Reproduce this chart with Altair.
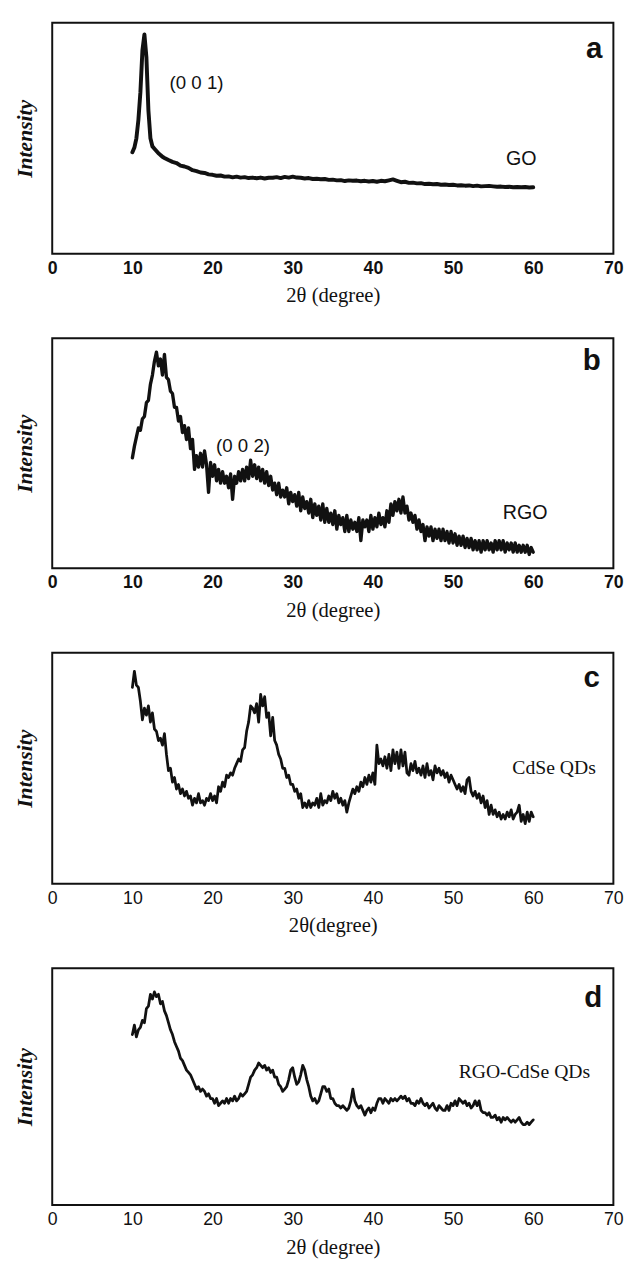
import altair as alt
import pandas as pd

# ---------------- data (2theta in degrees, intensity in arbitrary units 0-100) ----------------
# Panel a: GO
a_theta = [10.0, 10.25, 10.5, 10.75, 11.0, 11.25, 11.5, 11.75, 12.0, 12.25, 12.5, 12.75,
           13.0, 13.25, 13.5, 13.75, 14.0] + [14.5 + 0.5 * i for i in range(92)]
a_int = [44, 46, 50, 58, 70, 88, 95, 85, 62, 50, 46.5, 45.5,
         44.5, 43.5, 42.8, 42, 41.5,
         40.6, 39.8, 39.3, 38.2, 37.8, 37.2, 36.2, 35.8, 35.2, 35.0, 34.4,   # 14.5-19.5
         34.2, 33.8, 33.9, 33.4, 33.5, 33.1, 33.4, 33.0, 33.2, 32.8,         # 20-24.5
         33.0, 32.7, 33.0, 32.6, 32.9, 32.9, 33.2, 32.8, 33.3, 33.0,         # 25-29.5
         33.4, 33.0, 32.9, 32.6, 32.8, 32.4, 32.5, 32.3, 32.4, 32.0,         # 30-34.5
         32.1, 31.8, 31.9, 31.5, 31.8, 31.6, 31.7, 31.4, 31.6, 31.3,         # 35-39.5
         31.5, 31.2, 31.6, 31.4, 31.8, 32.2, 31.6, 31.0, 31.2, 30.7,         # 40-44.5
         30.8, 30.5, 30.6, 30.2, 30.3, 30.1, 30.2, 29.9, 30.0, 29.8,         # 45-49.5
         29.9, 29.6, 29.7, 29.5, 29.6, 29.3, 29.5, 29.2, 29.3, 29.4,         # 50-54.5
         29.2, 29.0, 29.1, 28.9, 29.0, 28.8, 28.9, 28.8, 28.9, 28.7,         # 55-59.5
         28.8]                                                               # 60

# Panel b: RGO (0.25 degree steps, one row per degree)
b_int = [
    48, 53, 57, 61,   # 10
    60, 65, 66, 72,   # 11
    73, 80, 84, 90,   # 12
    94, 88, 91, 84,   # 13
    93, 83, 82, 77,   # 14
    76, 70, 70, 64,   # 15
    66, 59, 62, 56,   # 16
    61, 52, 56, 43,   # 17
    49, 44, 50, 44,   # 18
    51, 45, 33, 46,   # 19
    40, 45, 38, 43,   # 20
    37, 42, 37, 40,   # 21
    35, 41, 30, 40,   # 22
    37, 42, 38, 43,   # 23
    38, 44, 39, 47,   # 24
    40, 45, 39, 44,   # 25
    38, 43, 37, 42,   # 26
    36, 40, 34, 37,   # 27
    32, 37, 31, 34,   # 28
    31, 35, 28, 33,   # 29
    29, 32, 27, 33,   # 30
    25, 31, 26, 29,   # 31
    24, 30, 22, 28,   # 32
    23, 27, 21, 28,   # 33
    20, 26, 20, 24,   # 34
    19, 25, 17, 23,   # 35
    19, 22, 16, 23,   # 36
    16, 21, 17, 20,   # 37
    16, 22, 12, 21,   # 38
    18, 21, 16, 23,   # 39
    17, 22, 18, 24,   # 40
    19, 22, 18, 25,   # 41
    20, 28, 23, 29,   # 42
    25, 30, 24, 31,   # 43
    24, 27, 21, 24,   # 44
    20, 23, 17, 21,   # 45
    16, 19, 12, 18,   # 46
    14, 18, 12, 17,   # 47
    13, 17, 12, 17,   # 48
    12, 16, 11, 16,   # 49
    11, 15, 10, 14,   # 50
    10, 14, 9, 13,    # 51
    9, 13, 8, 12,     # 52
    8, 12, 7, 12,     # 53
    8, 12, 8, 11,     # 54
    7, 12, 8, 12,     # 55
    8, 12, 7, 11,     # 56
    8, 11, 7, 11,     # 57
    7, 10, 7, 10,     # 58
    7, 10, 6, 9,      # 59
    7,                # 60
]
b_theta = [10 + 0.25 * i for i in range(len(b_int))]

# Panel c: CdSe QDs
c_int = [
    85, 92, 86, 85,   # 10
    79, 71, 76, 73,   # 11
    77, 70, 74, 67,   # 12
    66, 62, 63, 60,   # 13
    65, 56, 49, 50,   # 14
    44, 46, 41, 43,   # 15
    39, 41, 38, 40,   # 16
    37, 38, 34, 37,   # 17
    35, 39, 35, 36,   # 18
    34, 37, 36, 39,   # 19
    36, 38, 35, 42,   # 20
    40, 44, 42, 47,   # 21
    46, 48, 47, 50,   # 22
    52, 54, 53, 58,   # 23
    59, 66, 70, 77,   # 24
    76, 74, 78, 70,   # 25
    82, 77, 81, 72,   # 26
    74, 64, 72, 62,   # 27
    60, 56, 54, 50,   # 28
    50, 46, 47, 43,   # 29
    43, 40, 41, 37,   # 30
    39, 33, 35, 33,   # 31
    36, 33, 35, 34,   # 32
    37, 33, 39, 34,   # 33
    36, 35, 38, 36,   # 34
    40, 37, 39, 35,   # 35
    37, 34, 36, 31,   # 36
    35, 38, 41, 39,   # 37
    42, 40, 44, 42,   # 38
    46, 43, 47, 44,   # 39
    48, 43, 60, 52,   # 40
    54, 51, 55, 50,   # 41
    56, 49, 58, 52,   # 42
    57, 50, 58, 51,   # 43
    57, 48, 47, 52,   # 44
    49, 53, 48, 50,   # 45
    47, 51, 46, 52,   # 46
    47, 49, 45, 51,   # 47
    48, 50, 47, 49,   # 48
    46, 48, 44, 47,   # 49
    45, 43, 41, 43,   # 50
    40, 42, 39, 45,   # 51
    46, 40, 38, 40,   # 52
    37, 39, 35, 38,   # 53
    33, 36, 30, 34,   # 54
    30, 32, 29, 31,   # 55
    28, 30, 28, 31,   # 56
    29, 32, 28, 30,   # 57
    31, 34, 27, 30,   # 58
    26, 31, 27, 31,   # 59
    29,               # 60
]
c_theta = [10 + 0.25 * i for i in range(len(c_int))]

# Panel d: RGO-CdSe QDs
d_int = [
    72, 76, 71, 74,   # 10
    75, 78, 77, 83,   # 11
    84, 89, 87, 90,   # 12
    88, 89, 85, 86,   # 13
    82, 80, 77, 74,   # 14
    72, 69, 67, 65,   # 15
    62, 61, 59, 57,   # 16
    56, 55, 53, 51,   # 17
    49, 50, 48, 49,   # 18
    48, 46, 47, 45,   # 19
    45, 43, 45, 42,   # 20
    43, 44, 43, 45,   # 21
    43, 45, 44, 46,   # 22
    44, 45, 47, 46,   # 23
    47, 48, 51, 54,   # 24
    55, 57, 58, 60,   # 25
    59, 58, 59, 57,   # 26
    58, 56, 57, 54,   # 27
    54, 51, 50, 48,   # 28
    49, 50, 53, 57,   # 29
    58, 54, 51, 52,   # 30
    55, 59, 57, 53,   # 31
    50, 46, 44, 45,   # 32
    43, 44, 47, 50,   # 33
    50, 48, 49, 45,   # 34
    45, 43, 42, 42,   # 35
    41, 42, 41, 40,   # 36
    41, 44, 49, 44,   # 37
    42, 41, 42, 40,   # 38
    38, 40, 41, 39,   # 39
    41, 40, 43, 45,   # 40
    45, 43, 45, 44,   # 41
    43, 45, 44, 45,   # 42
    44, 45, 46, 45,   # 43
    46, 44, 45, 43,   # 44
    43, 42, 44, 43,   # 45
    45, 43, 42, 43,   # 46
    41, 42, 43, 41,   # 47
    40, 42, 41, 40,   # 48
    40, 42, 40, 43,   # 49
    42, 44, 42, 45,   # 50
    44, 43, 44, 42,   # 51
    43, 41, 42, 44,   # 52
    42, 44, 40, 39,   # 53
    39, 38, 39, 37,   # 54
    37, 38, 36, 37,   # 55
    35, 37, 36, 37,   # 56
    36, 35, 36, 35,   # 57
    36, 37, 35, 34,   # 58
    34, 35, 34, 35,   # 59
    36,               # 60
]
d_theta = [10 + 0.25 * i for i in range(len(d_int))]

x_ticks = [0, 10, 20, 30, 40, 50, 60, 70]

# annotation texts
letters = ["a", "b", "c", "d"]
letter_pos = [(67.6, 88.5), (67.3, 90.0), (67.3, 89.0), (67.5, 87.5)]
peak_labels = ["(0 0 1)", "(0 0 2)", None, None]
peak_pos = [(18.0, 74.0), (23.8, 53.0), None, None]
sample_labels = ["GO", "RGO", "CdSe QDs", "RGO-CdSe QDs"]
sample_pos = [(58.5, 41.0), (59.0, 24.0), (62.6, 50.0), (58.9, 56.0)]
x_titles = ["2θ (degree)", "2θ (degree)", "2θ(degree)", "2θ (degree)"]
heights = [235, 234, 235, 241]
line_widths = [4, 3.4, 2.8, 2.8]

INK = "#111111"


def panel(i, theta, inten):
    bold = i < 2
    df = pd.DataFrame({"t": theta, "v": inten})
    xenc = alt.X(
        "t:Q",
        scale=alt.Scale(domain=[0, 70], nice=False),
        axis=alt.Axis(
            values=x_ticks, ticks=False, grid=False, domain=False, labelFlush=False,
            labelFont="Liberation Sans", labelFontSize=18,
            labelFontWeight="bold" if bold else "normal", labelColor=INK, labelPadding=6,
            title=x_titles[i], titleFont="Liberation Serif", titleFontSize=21,
            titleFontWeight="normal", titleColor=INK, titlePadding=8,
        ),
    )
    yenc = alt.Y(
        "v:Q",
        scale=alt.Scale(domain=[0, 100], nice=False),
        axis=alt.Axis(
            labels=False, ticks=False, grid=False, domain=False,
            title="Intensity", titleFont="Liberation Serif", titleFontStyle="italic",
            titleFontWeight="bold", titleFontSize=22, titleColor=INK, titlePadding=16,
        ),
    )
    line = alt.Chart(df).mark_line(
        color=INK, strokeWidth=line_widths[i], strokeJoin="round", strokeCap="round"
    ).encode(x=xenc, y=yenc)

    layers = [line]
    ldf = pd.DataFrame({"t": [letter_pos[i][0]], "v": [letter_pos[i][1]], "s": [letters[i]]})
    layers.append(
        alt.Chart(ldf).mark_text(font="Liberation Sans", fontWeight="bold", fontSize=30,
                                 color=INK, align="center", baseline="middle")
        .encode(x=xenc, y=yenc, text="s:N")
    )
    if peak_labels[i]:
        pdf = pd.DataFrame({"t": [peak_pos[i][0]], "v": [peak_pos[i][1]], "s": [peak_labels[i]]})
        layers.append(
            alt.Chart(pdf).mark_text(font="Liberation Sans", fontSize=19, color=INK,
                                     align="center", baseline="middle")
            .encode(x=xenc, y=yenc, text="s:N")
        )
    sdf = pd.DataFrame({"t": [sample_pos[i][0]], "v": [sample_pos[i][1]], "s": [sample_labels[i]]})
    sans = i < 2
    layers.append(
        alt.Chart(sdf).mark_text(font="Liberation Sans" if sans else "Liberation Serif",
                                 fontSize=20, color=INK, align="center", baseline="middle")
        .encode(x=xenc, y=yenc, text="s:N")
    )
    return alt.layer(*layers).properties(width=571, height=heights[i])


panels = [
    panel(0, a_theta, a_int),
    panel(1, b_theta, b_int),
    panel(2, c_theta, c_int),
    panel(3, d_theta, d_int),
]

chart = (
    alt.vconcat(*panels, spacing=86, bounds="flush")
    .properties(padding={"left": 5, "top": 3, "right": 10, "bottom": 5}, background="white")
    .configure_view(stroke=INK, strokeWidth=2)
)

chart.save("out.html", embed_options={"renderer": "svg", "actions": False})
